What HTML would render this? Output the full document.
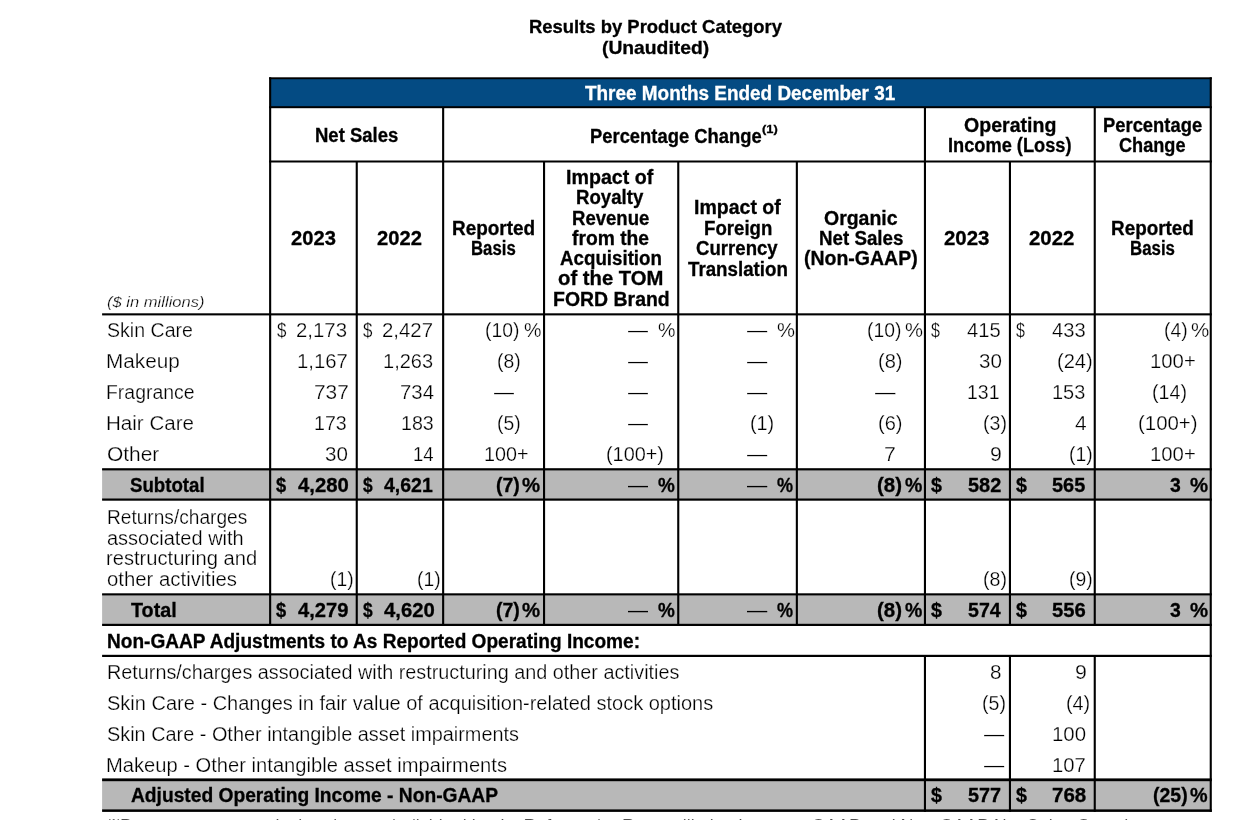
<!DOCTYPE html>
<html lang="en">
<head>
<meta charset="utf-8">
<title>Results by Product Category (Unaudited)</title>
<style>
html,body{margin:0;padding:0;background:#fff;}
body{width:1260px;height:820px;overflow:hidden;position:relative;
 font-family:"Liberation Sans",sans-serif;color:#000;}
#page{position:absolute;left:0;top:0;width:1260px;height:820px;overflow:hidden;background:#fff;}
.r{position:absolute;}
.t{position:absolute;white-space:pre;line-height:normal;transform-origin:0 0;
 font-kerning:normal;}
.n{-webkit-text-stroke:0.25px #fff;}
.b{font-weight:bold;-webkit-text-stroke:0.3px currentColor;}
.i{font-style:italic;}
</style>
</head>
<body>
<div id="page">
<svg id="grid" width="1260" height="820" viewBox="0 0 1260 820" style="position:absolute;left:0;top:0">
<rect x="270.10" y="78.00" width="940.70" height="29.50" fill="#044b83"/>
<rect x="102.10" y="469.00" width="1108.70" height="30.50" fill="#b8b8b8"/>
<rect x="102.10" y="594.00" width="1108.70" height="31.00" fill="#b8b8b8"/>
<rect x="102.10" y="779.50" width="1108.70" height="31.00" fill="#b8b8b8"/>
<rect x="269.10" y="77.30" width="942.70" height="1.90" fill="#000"/>
<rect x="269.10" y="106.20" width="942.70" height="2.00" fill="#000"/>
<rect x="269.10" y="160.50" width="942.70" height="2.00" fill="#000"/>
<rect x="102.10" y="313.30" width="1109.70" height="2.10" fill="#000"/>
<rect x="102.10" y="468.20" width="1109.70" height="2.20" fill="#000"/>
<rect x="102.10" y="498.50" width="1109.70" height="2.20" fill="#000"/>
<rect x="102.10" y="593.30" width="1109.70" height="2.10" fill="#000"/>
<rect x="102.10" y="623.80" width="1109.70" height="2.20" fill="#000"/>
<rect x="102.10" y="654.80" width="1109.70" height="2.20" fill="#000"/>
<rect x="102.10" y="778.40" width="1109.70" height="2.80" fill="#000"/>
<rect x="102.10" y="809.40" width="1109.70" height="2.50" fill="#000"/>
<rect x="269.10" y="77.30" width="2.10" height="548.70" fill="#000"/>
<rect x="1209.70" y="77.30" width="2.10" height="734.60" fill="#000"/>
<rect x="442.10" y="107.00" width="2.10" height="519.00" fill="#000"/>
<rect x="923.90" y="107.00" width="2.10" height="519.00" fill="#000"/>
<rect x="1093.70" y="107.00" width="2.10" height="519.00" fill="#000"/>
<rect x="355.70" y="161.00" width="2.10" height="465.00" fill="#000"/>
<rect x="543.00" y="161.00" width="2.10" height="465.00" fill="#000"/>
<rect x="677.20" y="161.00" width="2.10" height="465.00" fill="#000"/>
<rect x="795.80" y="161.00" width="2.10" height="465.00" fill="#000"/>
<rect x="1008.90" y="161.00" width="2.10" height="465.00" fill="#000"/>
<rect x="923.90" y="655.00" width="2.10" height="156.90" fill="#000"/>
<rect x="1008.90" y="655.00" width="2.10" height="156.90" fill="#000"/>
<rect x="1093.70" y="655.00" width="2.10" height="156.90" fill="#000"/>
</svg>
<span class="t b" id="t0" style="left:528.85px;top:15.76px;font-size:18.5px;transform:scaleX(0.9965);">Results by Product Category</span>
<span class="t b" id="t1" style="left:602.35px;top:36.51px;font-size:18.5px;transform:scaleX(1.0422);">(Unaudited)</span>
<span class="t b" id="t2" style="left:585.10px;top:81.95px;font-size:19.5px;transform:scaleX(0.9706);color:#fff;">Three Months Ended December 31</span>
<span class="t b" id="t3" style="left:314.74px;top:124.05px;font-size:19.5px;transform:scaleX(0.9488);">Net Sales</span>
<span class="t b" id="t4" style="left:589.75px;top:124.55px;font-size:19.5px;transform:scaleX(0.9426);">Percentage Change</span>
<span class="t b" id="t5" style="left:762.10px;top:123.38px;font-size:11.4px;transform:scaleX(1.1320);">(1)</span>
<span class="t b" id="t6" style="left:963.89px;top:114.35px;font-size:19.5px;transform:scaleX(1.0029);">Operating</span>
<span class="t b" id="t7" style="left:947.61px;top:134.35px;font-size:19.5px;transform:scaleX(0.9346);">Income (Loss)</span>
<span class="t b" id="t8" style="left:1102.60px;top:114.35px;font-size:19.5px;transform:scaleX(0.9426);">Percentage</span>
<span class="t b" id="t9" style="left:1118.93px;top:134.35px;font-size:19.5px;transform:scaleX(0.9302);">Change</span>
<span class="t b" id="t10" style="left:290.62px;top:227.35px;font-size:19.5px;transform:scaleX(1.0346);">2023</span>
<span class="t b" id="t11" style="left:376.87px;top:227.35px;font-size:19.5px;transform:scaleX(1.0346);">2022</span>
<span class="t b" id="t12" style="left:451.82px;top:216.85px;font-size:19.5px;transform:scaleX(0.9715);">Reported</span>
<span class="t b" id="t13" style="left:470.95px;top:236.85px;font-size:19.5px;transform:scaleX(0.8596);">Basis</span>
<span class="t b" id="t14" style="left:566.27px;top:166.10px;font-size:19.5px;transform:scaleX(1.0068);">Impact of</span>
<span class="t b" id="t15" style="left:576.34px;top:186.35px;font-size:19.5px;transform:scaleX(0.9554);">Royalty</span>
<span class="t b" id="t16" style="left:571.84px;top:206.85px;font-size:19.5px;transform:scaleX(0.9519);">Revenue</span>
<span class="t b" id="t17" style="left:572.20px;top:226.85px;font-size:19.5px;transform:scaleX(0.9876);">from the</span>
<span class="t b" id="t18" style="left:560.21px;top:247.35px;font-size:19.5px;transform:scaleX(0.9603);">Acquisition</span>
<span class="t b" id="t19" style="left:558.12px;top:267.35px;font-size:19.5px;transform:scaleX(1.0391);">of the TOM</span>
<span class="t b" id="t20" style="left:552.53px;top:287.85px;font-size:19.5px;transform:scaleX(0.9975);">FORD Brand</span>
<span class="t b" id="t21" style="left:693.78px;top:196.10px;font-size:19.5px;transform:scaleX(1.0010);">Impact of</span>
<span class="t b" id="t22" style="left:703.84px;top:216.60px;font-size:19.5px;transform:scaleX(0.9555);">Foreign</span>
<span class="t b" id="t23" style="left:696.42px;top:236.85px;font-size:19.5px;transform:scaleX(0.9544);">Currency</span>
<span class="t b" id="t24" style="left:688.00px;top:257.60px;font-size:19.5px;transform:scaleX(0.9604);">Translation</span>
<span class="t b" id="t25" style="left:823.89px;top:206.85px;font-size:19.5px;transform:scaleX(0.9987);">Organic</span>
<span class="t b" id="t26" style="left:818.83px;top:226.85px;font-size:19.5px;transform:scaleX(0.9617);">Net Sales</span>
<span class="t b" id="t27" style="left:804.09px;top:247.35px;font-size:19.5px;transform:scaleX(0.9991);">(Non-GAAP)</span>
<span class="t b" id="t28" style="left:943.86px;top:227.35px;font-size:19.5px;transform:scaleX(1.0465);">2023</span>
<span class="t b" id="t29" style="left:1028.86px;top:227.35px;font-size:19.5px;transform:scaleX(1.0465);">2022</span>
<span class="t b" id="t30" style="left:1110.82px;top:216.85px;font-size:19.5px;transform:scaleX(0.9684);">Reported</span>
<span class="t b" id="t31" style="left:1130.20px;top:236.60px;font-size:19.5px;transform:scaleX(0.8646);">Basis</span>
<span class="t n i" id="t32" style="left:107.32px;top:293.23px;font-size:15px;transform:scaleX(1.1039);">($ in millions)</span>
<span class="t n" id="t33" style="left:106.89px;top:319.35px;font-size:19.5px;transform:scaleX(1.0034);">Skin Care</span>
<span class="t n" id="t34" style="left:105.88px;top:349.85px;font-size:19.5px;transform:scaleX(1.0625);">Makeup</span>
<span class="t n" id="t35" style="left:105.98px;top:380.85px;font-size:19.5px;transform:scaleX(0.9964);">Fragrance</span>
<span class="t n" id="t36" style="left:105.89px;top:411.85px;font-size:19.5px;transform:scaleX(1.0540);">Hair Care</span>
<span class="t n" id="t37" style="left:106.52px;top:442.85px;font-size:19.5px;transform:scaleX(1.0731);">Other</span>
<span class="t b" id="t38" style="left:130.21px;top:473.60px;font-size:19.5px;transform:scaleX(0.9571);">Subtotal</span>
<span class="t n" id="t39" style="left:106.61px;top:506.10px;font-size:19.5px;transform:scaleX(0.9802);">Returns/charges</span>
<span class="t n" id="t40" style="left:106.87px;top:526.60px;font-size:19.5px;transform:scaleX(1.0257);">associated with</span>
<span class="t n" id="t41" style="left:106.24px;top:547.10px;font-size:19.5px;transform:scaleX(1.0329);">restructuring and</span>
<span class="t n" id="t42" style="left:106.86px;top:567.85px;font-size:19.5px;transform:scaleX(1.0432);">other activities</span>
<span class="t b" id="t43" style="left:131.25px;top:598.60px;font-size:19.5px;transform:scaleX(1.0118);">Total</span>
<span class="t b" id="t44" style="left:106.81px;top:629.85px;font-size:19.5px;transform:scaleX(0.9774);">Non-GAAP Adjustments to As Reported Operating Income:</span>
<span class="t n" id="t45" style="left:106.55px;top:661.10px;font-size:19.5px;transform:scaleX(1.0155);">Returns/charges associated with restructuring and other activities</span>
<span class="t n" id="t46" style="left:106.87px;top:692.10px;font-size:19.5px;transform:scaleX(1.0263);">Skin Care - Changes in fair value of acquisition-related stock options</span>
<span class="t n" id="t47" style="left:106.88px;top:723.10px;font-size:19.5px;transform:scaleX(1.0191);">Skin Care - Other intangible asset impairments</span>
<span class="t n" id="t48" style="left:105.93px;top:754.10px;font-size:19.5px;transform:scaleX(1.0334);">Makeup - Other intangible asset impairments</span>
<span class="t b" id="t49" style="left:130.95px;top:783.85px;font-size:19.5px;transform:scaleX(0.9849);">Adjusted Operating Income - Non-GAAP</span>
<span class="t n" id="t50" style="left:277.00px;top:319.35px;font-size:19.5px;transform:scaleX(0.8674);">$</span>
<span class="t n" id="t51" style="left:296.04px;top:319.35px;font-size:19.5px;transform:scaleX(1.0458);">2,173</span>
<span class="t n" id="t52" style="left:297.48px;top:349.85px;font-size:19.5px;transform:scaleX(1.0419);">1,167</span>
<span class="t n" id="t53" style="left:313.52px;top:380.85px;font-size:19.5px;transform:scaleX(1.0704);">737</span>
<span class="t n" id="t54" style="left:314.27px;top:411.85px;font-size:19.5px;transform:scaleX(1.0073);">173</span>
<span class="t n" id="t55" style="left:325.11px;top:442.85px;font-size:19.5px;transform:scaleX(1.0561);">30</span>
<span class="t b" id="t56" style="left:276.25px;top:473.60px;font-size:19.5px;transform:scaleX(0.9377);">$</span>
<span class="t b" id="t57" style="left:297.50px;top:473.60px;font-size:19.5px;transform:scaleX(1.0415);">4,280</span>
<span class="t n" id="t58" style="left:330.34px;top:567.85px;font-size:19.5px;transform:scaleX(0.9927);">(1)</span>
<span class="t b" id="t59" style="left:276.25px;top:598.60px;font-size:19.5px;transform:scaleX(0.9377);">$</span>
<span class="t b" id="t60" style="left:297.50px;top:598.60px;font-size:19.5px;transform:scaleX(1.0349);">4,279</span>
<span class="t n" id="t61" style="left:363.25px;top:319.35px;font-size:19.5px;transform:scaleX(0.8674);">$</span>
<span class="t n" id="t62" style="left:382.29px;top:319.35px;font-size:19.5px;transform:scaleX(1.0458);">2,427</span>
<span class="t n" id="t63" style="left:383.25px;top:349.85px;font-size:19.5px;transform:scaleX(1.0259);">1,263</span>
<span class="t n" id="t64" style="left:399.80px;top:380.85px;font-size:19.5px;transform:scaleX(1.0438);">734</span>
<span class="t n" id="t65" style="left:400.52px;top:411.85px;font-size:19.5px;transform:scaleX(1.0073);">183</span>
<span class="t n" id="t66" style="left:413.09px;top:442.85px;font-size:19.5px;transform:scaleX(0.9507);">14</span>
<span class="t b" id="t67" style="left:363.00px;top:473.60px;font-size:19.5px;transform:scaleX(0.8908);">$</span>
<span class="t b" id="t68" style="left:383.75px;top:473.60px;font-size:19.5px;transform:scaleX(0.9987);">4,621</span>
<span class="t n" id="t69" style="left:416.59px;top:567.85px;font-size:19.5px;transform:scaleX(0.9927);">(1)</span>
<span class="t b" id="t70" style="left:363.00px;top:598.60px;font-size:19.5px;transform:scaleX(0.8908);">$</span>
<span class="t b" id="t71" style="left:383.75px;top:598.60px;font-size:19.5px;transform:scaleX(1.0415);">4,620</span>
<span class="t n" id="t72" style="left:485.34px;top:319.35px;font-size:19.5px;transform:scaleX(0.9922);">(10)</span>
<span class="t n" id="t73" style="left:524.39px;top:319.35px;font-size:19.5px;transform:scaleX(1.0063);">%</span>
<span class="t n" id="t74" style="left:496.59px;top:349.85px;font-size:19.5px;transform:scaleX(0.9927);">(8)</span>
<span class="t n" id="t75" style="left:494.25px;top:380.85px;font-size:19.5px;transform:scaleX(1.0256);">—</span>
<span class="t n" id="t76" style="left:496.59px;top:411.85px;font-size:19.5px;transform:scaleX(0.9927);">(5)</span>
<span class="t n" id="t77" style="left:483.77px;top:442.85px;font-size:19.5px;transform:scaleX(1.0124);">100+</span>
<span class="t b" id="t78" style="left:496.08px;top:473.60px;font-size:19.5px;transform:scaleX(1.0016);">(7)</span>
<span class="t b" id="t79" style="left:521.68px;top:473.60px;font-size:19.5px;transform:scaleX(1.0443);">%</span>
<span class="t b" id="t80" style="left:496.08px;top:598.60px;font-size:19.5px;transform:scaleX(1.0016);">(7)</span>
<span class="t b" id="t81" style="left:521.68px;top:598.60px;font-size:19.5px;transform:scaleX(1.0443);">%</span>
<span class="t n" id="t82" style="left:628.00px;top:319.35px;font-size:19.5px;transform:scaleX(1.0256);">—</span>
<span class="t n" id="t83" style="left:658.14px;top:319.35px;font-size:19.5px;transform:scaleX(1.0063);">%</span>
<span class="t n" id="t84" style="left:628.00px;top:349.85px;font-size:19.5px;transform:scaleX(1.0256);">—</span>
<span class="t n" id="t85" style="left:628.00px;top:380.85px;font-size:19.5px;transform:scaleX(1.0256);">—</span>
<span class="t n" id="t86" style="left:628.00px;top:411.85px;font-size:19.5px;transform:scaleX(1.0256);">—</span>
<span class="t n" id="t87" style="left:606.07px;top:442.85px;font-size:19.5px;transform:scaleX(1.0184);">(100+)</span>
<span class="t" id="t88" style="left:628.00px;top:473.60px;font-size:19.5px;transform:scaleX(1.0256);">—</span>
<span class="t b" id="t89" style="left:657.95px;top:473.60px;font-size:19.5px;transform:scaleX(0.9697);">%</span>
<span class="t" id="t90" style="left:628.00px;top:598.60px;font-size:19.5px;transform:scaleX(1.0256);">—</span>
<span class="t b" id="t91" style="left:657.95px;top:598.60px;font-size:19.5px;transform:scaleX(0.9697);">%</span>
<span class="t n" id="t92" style="left:747.00px;top:319.35px;font-size:19.5px;transform:scaleX(1.0385);">—</span>
<span class="t n" id="t93" style="left:776.87px;top:319.35px;font-size:19.5px;transform:scaleX(1.0373);">%</span>
<span class="t n" id="t94" style="left:747.00px;top:349.85px;font-size:19.5px;transform:scaleX(1.0385);">—</span>
<span class="t n" id="t95" style="left:747.00px;top:380.85px;font-size:19.5px;transform:scaleX(1.0385);">—</span>
<span class="t n" id="t96" style="left:747.00px;top:442.85px;font-size:19.5px;transform:scaleX(1.0385);">—</span>
<span class="t n" id="t97" style="left:749.82px;top:411.85px;font-size:19.5px;transform:scaleX(1.0156);">(1)</span>
<span class="t" id="t98" style="left:747.00px;top:473.60px;font-size:19.5px;transform:scaleX(1.0385);">—</span>
<span class="t b" id="t99" style="left:777.22px;top:473.60px;font-size:19.5px;transform:scaleX(0.9249);">%</span>
<span class="t" id="t100" style="left:747.00px;top:598.60px;font-size:19.5px;transform:scaleX(1.0385);">—</span>
<span class="t b" id="t101" style="left:777.22px;top:598.60px;font-size:19.5px;transform:scaleX(0.9249);">%</span>
<span class="t n" id="t102" style="left:866.59px;top:319.35px;font-size:19.5px;transform:scaleX(0.9922);">(10)</span>
<span class="t n" id="t103" style="left:905.12px;top:319.35px;font-size:19.5px;transform:scaleX(1.0373);">%</span>
<span class="t n" id="t104" style="left:877.81px;top:349.85px;font-size:19.5px;transform:scaleX(1.0270);">(8)</span>
<span class="t n" id="t105" style="left:875.00px;top:380.85px;font-size:19.5px;transform:scaleX(1.0513);">—</span>
<span class="t n" id="t106" style="left:877.81px;top:411.85px;font-size:19.5px;transform:scaleX(1.0270);">(6)</span>
<span class="t n" id="t107" style="left:884.00px;top:442.85px;font-size:19.5px;transform:scaleX(1.0940);">7</span>
<span class="t b" id="t108" style="left:877.04px;top:473.60px;font-size:19.5px;transform:scaleX(1.0467);">(8)</span>
<span class="t b" id="t109" style="left:904.70px;top:473.60px;font-size:19.5px;transform:scaleX(0.9995);">%</span>
<span class="t b" id="t110" style="left:877.04px;top:598.60px;font-size:19.5px;transform:scaleX(1.0467);">(8)</span>
<span class="t b" id="t111" style="left:904.70px;top:598.60px;font-size:19.5px;transform:scaleX(0.9995);">%</span>
<span class="t n" id="t112" style="left:931.25px;top:319.35px;font-size:19.5px;transform:scaleX(0.8205);">$</span>
<span class="t n" id="t113" style="left:967.19px;top:319.35px;font-size:19.5px;transform:scaleX(1.0337);">415</span>
<span class="t n" id="t114" style="left:978.86px;top:349.85px;font-size:19.5px;transform:scaleX(1.0561);">30</span>
<span class="t n" id="t115" style="left:967.03px;top:380.85px;font-size:19.5px;transform:scaleX(0.9992);">131</span>
<span class="t n" id="t116" style="left:983.33px;top:411.85px;font-size:19.5px;transform:scaleX(1.0042);">(3)</span>
<span class="t n" id="t117" style="left:989.50px;top:442.85px;font-size:19.5px;transform:scaleX(1.0940);">9</span>
<span class="t b" id="t118" style="left:930.50px;top:473.60px;font-size:19.5px;transform:scaleX(1.0081);">$</span>
<span class="t b" id="t119" style="left:967.69px;top:473.60px;font-size:19.5px;transform:scaleX(1.0238);">582</span>
<span class="t n" id="t120" style="left:983.33px;top:567.85px;font-size:19.5px;transform:scaleX(1.0042);">(8)</span>
<span class="t b" id="t121" style="left:930.50px;top:598.60px;font-size:19.5px;transform:scaleX(1.0081);">$</span>
<span class="t b" id="t122" style="left:967.69px;top:598.60px;font-size:19.5px;transform:scaleX(1.0045);">574</span>
<span class="t n" id="t123" style="left:989.85px;top:661.10px;font-size:19.5px;transform:scaleX(1.0587);">8</span>
<span class="t n" id="t124" style="left:981.58px;top:692.10px;font-size:19.5px;transform:scaleX(1.0042);">(5)</span>
<span class="t n" id="t125" style="left:984.25px;top:723.10px;font-size:19.5px;transform:scaleX(1.0385);">—</span>
<span class="t n" id="t126" style="left:984.25px;top:754.10px;font-size:19.5px;transform:scaleX(1.0385);">—</span>
<span class="t b" id="t127" style="left:930.50px;top:783.85px;font-size:19.5px;transform:scaleX(1.0081);">$</span>
<span class="t b" id="t128" style="left:967.69px;top:783.85px;font-size:19.5px;transform:scaleX(1.0178);">577</span>
<span class="t n" id="t129" style="left:1016.25px;top:319.35px;font-size:19.5px;transform:scaleX(0.8205);">$</span>
<span class="t n" id="t130" style="left:1052.19px;top:319.35px;font-size:19.5px;transform:scaleX(1.0337);">433</span>
<span class="t n" id="t131" style="left:1056.56px;top:349.85px;font-size:19.5px;transform:scaleX(1.0304);">(24)</span>
<span class="t n" id="t132" style="left:1052.00px;top:380.85px;font-size:19.5px;transform:scaleX(1.0237);">153</span>
<span class="t n" id="t133" style="left:1074.67px;top:411.85px;font-size:19.5px;transform:scaleX(1.0692);">4</span>
<span class="t n" id="t134" style="left:1068.59px;top:442.85px;font-size:19.5px;transform:scaleX(0.9927);">(1)</span>
<span class="t b" id="t135" style="left:1015.50px;top:473.60px;font-size:19.5px;transform:scaleX(1.0081);">$</span>
<span class="t b" id="t136" style="left:1052.19px;top:473.60px;font-size:19.5px;transform:scaleX(1.0238);">565</span>
<span class="t n" id="t137" style="left:1068.59px;top:567.85px;font-size:19.5px;transform:scaleX(0.9927);">(9)</span>
<span class="t b" id="t138" style="left:1015.50px;top:598.60px;font-size:19.5px;transform:scaleX(1.0081);">$</span>
<span class="t b" id="t139" style="left:1052.18px;top:598.60px;font-size:19.5px;transform:scaleX(1.0395);">556</span>
<span class="t n" id="t140" style="left:1074.50px;top:661.10px;font-size:19.5px;transform:scaleX(1.0940);">9</span>
<span class="t n" id="t141" style="left:1066.07px;top:692.10px;font-size:19.5px;transform:scaleX(1.0156);">(4)</span>
<span class="t n" id="t142" style="left:1051.98px;top:723.10px;font-size:19.5px;transform:scaleX(1.0460);">100</span>
<span class="t n" id="t143" style="left:1051.98px;top:754.10px;font-size:19.5px;transform:scaleX(1.0401);">107</span>
<span class="t b" id="t144" style="left:1015.50px;top:783.85px;font-size:19.5px;transform:scaleX(1.0081);">$</span>
<span class="t b" id="t145" style="left:1051.86px;top:783.85px;font-size:19.5px;transform:scaleX(1.0496);">768</span>
<span class="t n" id="t146" style="left:1163.59px;top:319.35px;font-size:19.5px;transform:scaleX(0.9927);">(4)</span>
<span class="t n" id="t147" style="left:1191.11px;top:319.35px;font-size:19.5px;transform:scaleX(1.0527);">%</span>
<span class="t n" id="t148" style="left:1149.98px;top:349.85px;font-size:19.5px;transform:scaleX(1.0422);">100+</span>
<span class="t n" id="t149" style="left:1152.33px;top:380.85px;font-size:19.5px;transform:scaleX(1.0075);">(14)</span>
<span class="t n" id="t150" style="left:1137.79px;top:411.85px;font-size:19.5px;transform:scaleX(1.0457);">(100+)</span>
<span class="t n" id="t151" style="left:1149.98px;top:442.85px;font-size:19.5px;transform:scaleX(1.0422);">100+</span>
<span class="t b" id="t152" style="left:1170.45px;top:473.60px;font-size:19.5px;transform:scaleX(0.9946);">3</span>
<span class="t b" id="t153" style="left:1189.68px;top:473.60px;font-size:19.5px;transform:scaleX(1.0443);">%</span>
<span class="t b" id="t154" style="left:1170.45px;top:598.60px;font-size:19.5px;transform:scaleX(0.9946);">3</span>
<span class="t b" id="t155" style="left:1189.68px;top:598.60px;font-size:19.5px;transform:scaleX(1.0443);">%</span>
<span class="t b" id="t156" style="left:1152.84px;top:783.85px;font-size:19.5px;transform:scaleX(0.9982);">(25)</span>
<span class="t b" id="t157" style="left:1189.69px;top:783.85px;font-size:19.5px;transform:scaleX(1.0145);">%</span>
<span class="t n" id="t158" style="left:106.96px;top:816.80px;font-size:10.5px;transform:scaleX(1.1020);">(1)</span>
<span class="t n" id="t159" style="left:120.10px;top:816.16px;font-size:17.5px;transform:scaleX(1.0239);">Percentages are calculated on an individual basis. Refer to the Reconciliation between GAAP and Non-GAAP Net Sales Growth</span>
</div>
</body>
</html>
